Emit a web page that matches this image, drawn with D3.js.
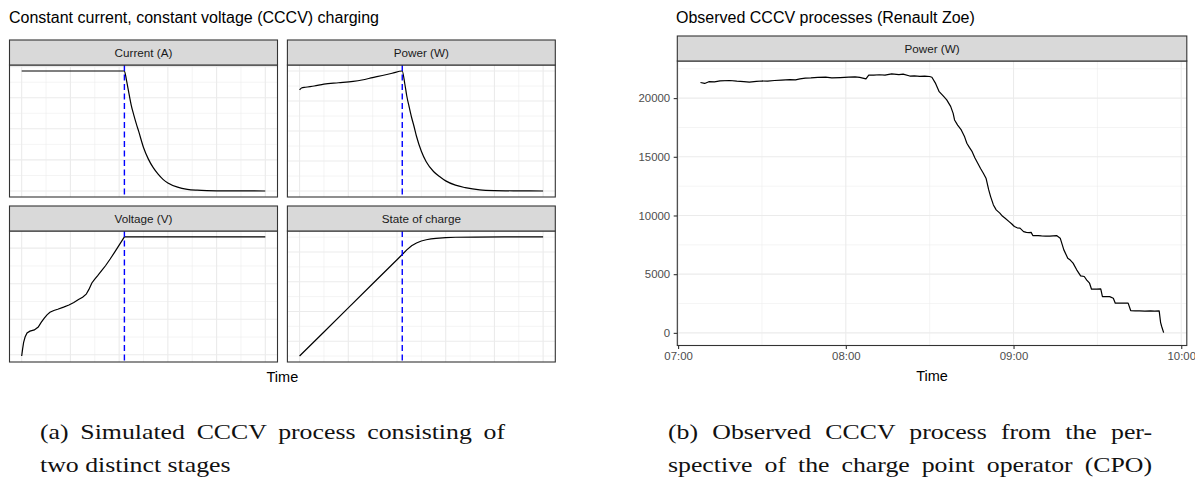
<!DOCTYPE html>
<html>
<head>
<meta charset="utf-8">
<script src="https://cdn.jsdelivr.net/npm/d3@7"></script>
<style>
  body { margin: 0; background: #fff; }
  text { font-family: "Liberation Sans", Arial, sans-serif; }
  .cap { font-family: "Liberation Serif", "Times New Roman", serif; fill: #111; }
</style>
</head>
<body>
<script>
//simulated CCCV process, time in minutes, CV stage starts at switchTime
var switchTime = 105.4;
var simTicksMajor = [0, 50, 100, 150, 200, 250],
    simTicksMinor = [25, 75, 125, 175, 225];

var currentData = [[0, 77.2], [105.4, 77.2], [107.5, 71.4], [110, 63], [112.5, 55], [115, 49],
    [117.5, 43.5], [120, 38.5], [125, 28], [130, 20.5], [135, 15], [140, 10.8], [145, 7.5],
    [150, 5.2], [160, 2.5], [170, 1.1], [180, 0.5], [190, 0.2], [200, 0.1], [225, 0.05], [250, 0]];
var powerData = [[0, 13470], [2, 13730], [6, 13830], [15, 14000], [25, 14250], [40, 14430],
    [55, 14620], [64, 14800], [75, 15120], [85, 15400], [95, 15700], [105.4, 16000], [108, 14300],
    [110, 12700], [112.5, 11200], [115, 9800], [117.5, 8600], [120, 7300], [125, 5300], [130, 3900],
    [137.5, 2600], [145, 1800], [150, 1350], [160, 780], [170, 450], [185, 150], [200, 60],
    [225, 20], [250, 0]];
var voltageData = [[0, 339.3], [1, 343.5], [2, 347], [3.5, 350], [5.5, 352.3], [8.5, 353.3],
    [13, 354], [17, 355.6], [20, 358.2], [23, 360.5], [26, 362.5], [29, 363.9], [33, 364.9],
    [37, 365.6], [43, 366.8], [48.5, 368], [53.5, 369.4], [58.3, 371.1], [62.5, 372.4],
    [66.2, 374.1], [69, 376.8], [72, 380.4], [75, 382.6], [78, 384.5], [82, 387.3], [86, 390.1],
    [90.8, 393.9], [95.6, 397.9], [100.5, 402.1], [105.4, 406.3], [250, 406.3]];
var socData = [[0, 10], [25, 26.2], [50, 42.4], [75, 58.6], [100, 74.8], [105.4, 78.3],
    [110, 81.4], [115, 84.2], [120, 86], [125, 87.4], [130, 88.2], [135, 88.8], [140, 89.2],
    [150, 89.6], [160, 89.9], [180, 90], [210, 90.1], [250, 90.1]];

//gridline values of the four facets
var currentMajor = [0, 20, 40, 60, 80], currentMinor = [10, 30, 50, 70];
var powerMajor = [0, 4000, 8000, 12000, 16000], powerMinor = [2000, 6000, 10000, 14000];
var voltageMajor = [340, 360, 380, 400], voltageMinor = [350, 370, 390, 410];
var socMajor = [20, 40, 60, 80], socMinor = [10, 30, 50, 70, 90];

//observed Renault Zoe session: minutes after 07:00, power in W
var zoeData = [[8.0, 21330], [9.5, 21250], [11, 21400], [13, 21380], [15, 21470], [18.5, 21500],
    [21, 21440], [23.5, 21400], [25.5, 21360], [28, 21420], [30, 21460], [32, 21440],
    [34.5, 21500], [37, 21530], [40, 21580], [42, 21560], [43.6, 21640], [45.5, 21700],
    [47.5, 21720], [50, 21760], [52.8, 21780], [55, 21720], [58, 21750], [61, 21790],
    [63.3, 21810], [65, 21760], [67.2, 21640], [68.2, 21950], [70, 21960], [72, 21990],
    [74, 21960], [76.4, 22060], [79, 22000], [80.5, 22040], [82.9, 21880], [84.5, 21900],
    [86.5, 21850], [88.2, 21870], [90, 21840], [90.8, 21780], [92, 21300], [93.4, 20550],
    [95, 20150], [96.1, 19850], [97.5, 19300], [98.4, 18700], [98.9, 18140], [100, 17700],
    [101.3, 17290], [102.5, 16700], [103.3, 16160], [104.2, 15800], [105.2, 15440],
    [106.2, 14900], [107.2, 14450], [108.2, 14000], [109.2, 13600], [110.2, 13150],
    [111.1, 12200], [111.8, 11610], [112.8, 10900], [113.8, 10480], [115.1, 10200],
    [116, 9950], [117, 9770], [118.4, 9480], [119.3, 9300], [120.3, 9060], [121.3, 8950],
    [122.3, 8920], [123.6, 8630], [124.6, 8560], [125.6, 8545], [126.3, 8560], [126.9, 8290],
    [128.8, 8290], [130, 8260], [131.5, 8235], [133, 8250], [135.4, 8290], [136.7, 8070],
    [138, 7070], [139.4, 6360], [140.3, 6200], [141.3, 5940], [142.6, 5370], [144, 4860],
    [145.3, 4800], [146.2, 4500], [147.2, 4230], [147.9, 3720], [149.8, 3720], [151.2, 3750],
    [151.8, 3090], [154.4, 3090], [155.7, 2955], [156.4, 2530], [161, 2530], [161.9, 1900],
    [163.5, 1870], [165, 1880], [167, 1860], [169, 1880], [170.5, 1860], [172.1, 1870],
    [172.6, 900], [173, 540], [173.7, 25]];
var zoeTicksMajor = ["07:00", "08:00", "09:00", "10:00"],
    zoeTicksMinor = ["07:30", "08:30", "09:30"];
var zoeYMajor = [0, 5000, 10000, 15000, 20000],
    zoeYMinor = [2500, 7500, 12500, 17500, 22500];

var width = 1195,
    height = 480;

var svg = d3.select("body")
    .append("svg")
    .attr("width", width)
    .attr("height", height);

var parseHM = d3.timeParse("%H:%M");
var day0 = parseHM("07:00");
function clock(m) { return new Date(day0.getTime() + m * 60000); }

//ggplot style 5% expansion of the data range
function padded(ext) {
    var d = (ext[1] - ext[0]) * 0.05;
    return [ext[0] - d, ext[1] + d];
}

//draws one facet: strip, grid, border; returns the group for data layers
function facet(box, label, x, y, grid) {
    var g = svg.append("g");
    var top = box.top + box.strip;

    var gridG = g.append("g");
    [["minor", 0.55], ["major", 1.1]].forEach(function (k) {
        gridG.selectAll(".gx" + k[0])
            .data(grid.x[k[0]])
            .enter()
            .append("line")
            .attr("x1", function (d) { return x(d); })
            .attr("x2", function (d) { return x(d); })
            .attr("y1", top)
            .attr("y2", box.bottom)
            .attr("stroke", "#ebebeb")
            .attr("stroke-width", k[1]);
        gridG.selectAll(".gy" + k[0])
            .data(grid.y[k[0]])
            .enter()
            .append("line")
            .attr("x1", box.left)
            .attr("x2", box.right)
            .attr("y1", function (d) { return y(d); })
            .attr("y2", function (d) { return y(d); })
            .attr("stroke", "#ebebeb")
            .attr("stroke-width", k[1]);
    });

    var layer = g.append("g");

    //panel border
    g.append("rect")
        .attr("x", box.left)
        .attr("y", top)
        .attr("width", box.right - box.left)
        .attr("height", box.bottom - top)
        .attr("fill", "none")
        .attr("stroke", "#333333")
        .attr("stroke-width", 1.1);

    //strip
    g.append("rect")
        .attr("x", box.left)
        .attr("y", box.top)
        .attr("width", box.right - box.left)
        .attr("height", box.strip)
        .attr("fill", "#d9d9d9")
        .attr("stroke", "#333333")
        .attr("stroke-width", 1.1);
    g.append("text")
        .attr("x", (box.left + box.right) / 2)
        .attr("y", box.top + box.strip / 2 + 4.2)
        .attr("text-anchor", "middle")
        .attr("font-size", 11.7)
        .attr("fill", "#1a1a1a")
        .text(label);

    return layer;
}

//----- left: simulated process -----
svg.append("text")
    .attr("x", 9)
    .attr("y", 23)
    .attr("font-size", 16)
    .attr("fill", "#000")
    .text("Constant current, constant voltage (CCCV) charging");

var simPanels = [
    {label: "Current (A)", data: currentData, major: currentMajor, minor: currentMinor,
     curve: d3.curveMonotoneX, col: 0, row: 0},
    {label: "Power (W)", data: powerData, major: powerMajor, minor: powerMinor,
     curve: d3.curveMonotoneX, col: 1, row: 0},
    {label: "Voltage (V)", data: voltageData, major: voltageMajor, minor: voltageMinor,
     curve: d3.curveLinear, col: 0, row: 1},
    {label: "State of charge", data: socData, major: socMajor, minor: socMinor,
     curve: d3.curveLinear, col: 1, row: 1}
];

var colsX = [[9.5, 277.5], [287.4, 555.3]],
    rowsY = [[40, 197], [206, 362]];

simPanels.forEach(function (p) {
    var box = {left: colsX[p.col][0], right: colsX[p.col][1],
               top: rowsY[p.row][0], bottom: rowsY[p.row][1], strip: 25};

    var x = d3.scaleLinear()
        .domain(padded(d3.extent(p.data, function (d) { return d[0]; })))
        .range([box.left, box.right]);
    var y = d3.scaleLinear()
        .domain(padded(d3.extent(p.data, function (d) { return d[1]; })))
        .range([box.bottom, box.top + box.strip]);

    var layer = facet(box, p.label, x, y,
        {x: {major: simTicksMajor, minor: simTicksMinor}, y: {major: p.major, minor: p.minor}});

    var line = d3.line()
        .x(function (d) { return x(d[0]); })
        .y(function (d) { return y(d[1]); })
        .curve(p.curve);

    layer.append("path")
        .datum(p.data)
        .attr("d", line)
        .attr("fill", "none")
        .attr("stroke", "#000")
        .attr("stroke-width", 1.2);

    //switch from CC to CV stage
    layer.append("line")
        .attr("x1", x(switchTime))
        .attr("x2", x(switchTime))
        .attr("y1", box.top + box.strip)
        .attr("y2", box.bottom)
        .attr("stroke", "#0000ff")
        .attr("stroke-width", 1.4)
        .attr("stroke-dasharray", "6,3.5");
});

svg.append("text")
    .attr("x", (colsX[0][0] + colsX[1][1]) / 2)
    .attr("y", 382)
    .attr("text-anchor", "middle")
    .attr("font-size", 14.5)
    .attr("fill", "#000")
    .text("Time");

//----- right: observed Renault Zoe -----
svg.append("text")
    .attr("x", 676)
    .attr("y", 23)
    .attr("font-size", 16)
    .attr("fill", "#000")
    .text("Observed CCCV processes (Renault Zoe)");

var zoeBox = {left: 677.3, right: 1186.8, top: 36, bottom: 345.5, strip: 25};

var xZoe = d3.scaleTime()
    .domain(padded(d3.extent(zoeData, function (d) { return d[0]; })).map(clock))
    .range([zoeBox.left, zoeBox.right]);
var yZoe = d3.scaleLinear()
    .domain(padded(d3.extent(zoeData, function (d) { return d[1]; })))
    .range([zoeBox.bottom, zoeBox.top + zoeBox.strip]);

var zoeLayer = facet(zoeBox, "Power (W)", xZoe, yZoe,
    {x: {major: zoeTicksMajor.map(parseHM), minor: zoeTicksMinor.map(parseHM)},
     y: {major: zoeYMajor, minor: zoeYMinor}});

zoeLayer.append("path")
    .datum(zoeData)
    .attr("d", d3.line()
        .x(function (d) { return xZoe(clock(d[0])); })
        .y(function (d) { return yZoe(d[1]); }))
    .attr("fill", "none")
    .attr("stroke", "#000")
    .attr("stroke-width", 1.2)
    .attr("stroke-linejoin", "round");

//axes
var yAxis = d3.axisLeft(yZoe)
    .tickValues(zoeYMajor)
    .tickSize(3.6)
    .tickPadding(3.5)
    .tickFormat(d3.format("d"));
var xAxis = d3.axisBottom(xZoe)
    .tickValues(zoeTicksMajor.map(parseHM))
    .tickSize(3.6)
    .tickPadding(3)
    .tickFormat(d3.timeFormat("%H:%M"));

[svg.append("g").attr("transform", "translate(" + zoeBox.left + ",0)").call(yAxis),
 svg.append("g").attr("transform", "translate(0," + zoeBox.bottom + ")").call(xAxis)]
    .forEach(function (a) {
        a.select(".domain").remove();
        a.selectAll(".tick line").attr("stroke", "#333333").attr("stroke-width", 1.1);
        a.selectAll(".tick text")
            .attr("fill", "#4d4d4d")
            .style("font-size", "11.4px")
            .style("font-family", "'Liberation Sans', Arial, sans-serif");
    });

svg.append("text")
    .attr("x", (zoeBox.left + zoeBox.right) / 2)
    .attr("y", 381)
    .attr("text-anchor", "middle")
    .attr("font-size", 14.5)
    .attr("fill", "#000")
    .text("Time");

//----- sub-captions (justified like the LaTeX source) -----
var capStretch = 1.2;
var captions = [
    {x: 40, y: 439, text: "(a) Simulated CCCV process consisting of", len: 465},
    {x: 40, y: 472, text: "two distinct stages", len: null},
    {x: 668, y: 439, text: "(b) Observed CCCV process from the per-", len: 484},
    {x: 668, y: 472, text: "spective of the charge point operator (CPO)", len: 484}
];
captions.forEach(function (c) {
    var t = svg.append("text")
        .attr("class", "cap")
        .attr("font-size", 21.5)
        .attr("transform", "translate(" + c.x + "," + c.y + ") scale(" + capStretch + ",1)")
        .text(c.text);
    if (c.len) {
        var natural = t.node().getComputedTextLength(),
            gaps = c.text.split(" ").length - 1;
        t.style("word-spacing", ((c.len / capStretch - natural) / gaps) + "px");
    }
});
</script>
</body>
</html>
